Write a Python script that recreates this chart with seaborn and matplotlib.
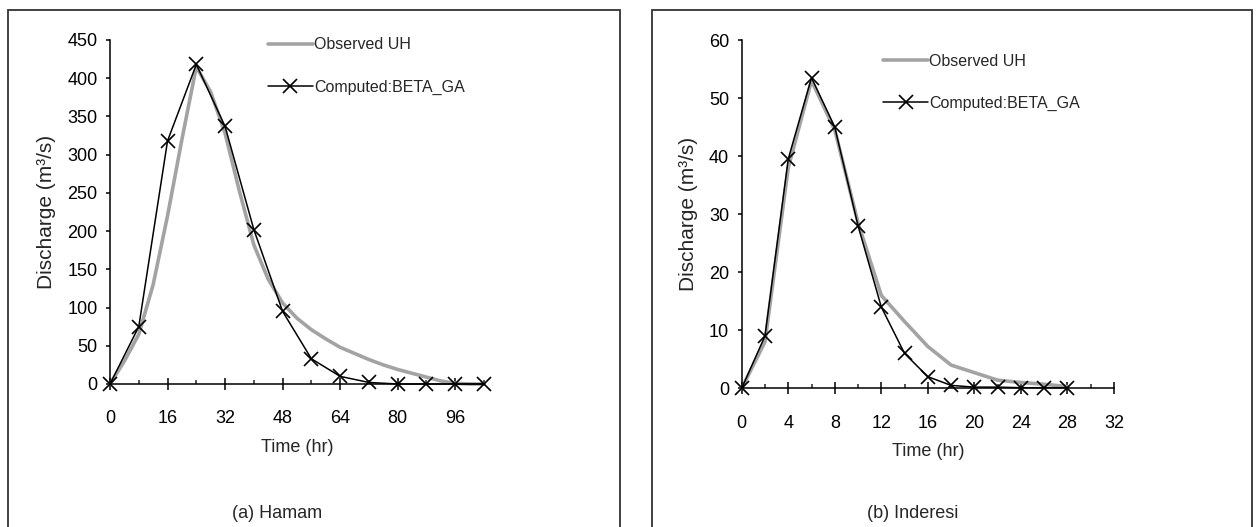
import numpy as np
import pandas as pd
import matplotlib
matplotlib.use("Agg")
import matplotlib.pyplot as plt
from matplotlib.patches import Rectangle
from matplotlib.lines import Line2D
from matplotlib.ticker import MultipleLocator
import seaborn as sns

# --- (a) Hamam ---
hamam_obs_t = [0, 4, 8, 12, 16, 20, 24, 28, 32, 36, 40, 44, 48, 52, 56, 60, 64, 68,
               72, 76, 80, 84, 88, 92, 96, 100, 104]
hamam_obs_q = [0, 30, 65, 130, 220, 320, 415, 382, 328, 252, 182, 137, 106, 86, 71,
               59, 48, 40, 32, 25, 19, 14, 9, 4, 1, 0, 0]
hamam_cmp_t = [0, 8, 16, 24, 32, 40, 48, 56, 64, 72, 80, 88, 96, 104]
hamam_cmp_q = [0, 75, 318, 418, 337, 202, 95, 33, 10, 2, 0, 0, 0, 0]

# --- (b) Inderesi ---
ind_obs_t = [0, 2, 4, 6, 8, 10, 12, 14, 16, 18, 20, 22, 24, 26, 28]
ind_obs_q = [0, 8, 38, 53, 44.5, 28.5, 16, 11.5, 7.2, 4.0, 2.7, 1.4, 1.0, 0.7, 0.3]
ind_cmp_t = [0, 2, 4, 6, 8, 10, 12, 14, 16, 18, 20, 22, 24, 26, 28]
ind_cmp_q = [0, 9, 39.5, 53.5, 45, 28, 14, 6, 2, 0.5, 0.2, 0.2, 0.1, 0.1, 0.1]

sns.set_style("ticks")
plt.rcParams['font.family'] = ['Liberation Sans', 'DejaVu Sans']

fig = plt.figure(figsize=(12.57, 5.27), dpi=100)
W, H = 1257, 527

# panel frames
for x0, x1 in [(8, 620), (652, 1252)]:
    fig.patches.append(Rectangle((x0 / W, -0.1), (x1 - x0) / W, 1.1 - 10 / H,
                                 transform=fig.transFigure, fill=False,
                                 edgecolor='#333333', lw=1.3))

ax1 = fig.add_axes([110 / W, 1 - 384 / H, 374 / W, 344 / H])
ax2 = fig.add_axes([741.7 / W, 1 - 388.3 / H, 372.3 / W, 348.3 / H])

gray = '#a3a3a3'
panels = [
    (ax1, hamam_obs_t, hamam_obs_q, hamam_cmp_t, hamam_cmp_q, 104, 450, 50, 16, 8,
     '(a) Hamam', (0.4225, 1.008), 277),
    (ax2, ind_obs_t, ind_obs_q, ind_cmp_t, ind_cmp_q, 32, 60, 10, 4, 2,
     '(b) Inderesi', (0.38, 0.96), 913),
]

for ax, ot, oq, ct, cq, xmax, ymax, ystep, xmaj, xmin_, title, lpos, tx in panels:
    sns.lineplot(x=ot, y=oq, ax=ax, color=gray, lw=2.6, label='Observed UH')
    sns.lineplot(x=ct, y=cq, ax=ax, color='black', lw=1.1, marker='x',
                 markersize=10, markeredgewidth=1.2, markeredgecolor='black',
                 label='Computed:BETA_GA')
    ax.set_xlim(0, xmax)
    ax.set_ylim(0, ymax)
    ax.xaxis.set_major_locator(MultipleLocator(xmaj))
    ax.xaxis.set_minor_locator(MultipleLocator(xmin_))
    ax.yaxis.set_major_locator(MultipleLocator(ystep))
    ax.tick_params(axis='x', which='major', direction='inout', length=8, width=1.1,
                   labelsize=13, pad=15, colors='black')
    ax.tick_params(axis='x', which='minor', direction='in', length=3, width=1.1)
    ax.tick_params(axis='y', which='major', direction='out', length=3, width=1.1,
                   labelsize=13, pad=6, colors='black')
    ax.set_xlabel('Time (hr)', fontsize=13, labelpad=8)
    ax.set_ylabel('Discharge (m³/s)', fontsize=15, labelpad=8)
    for s in ['top', 'right']:
        ax.spines[s].set_visible(False)
    for s in ['left', 'bottom']:
        ax.spines[s].set_linewidth(1.1)
        ax.spines[s].set_color('black')
    for l in ax.get_lines():
        l.set_clip_on(False)
    handles = [Line2D([], [], color=gray, lw=2.6),
               Line2D([], [], color='black', lw=1.1, marker='x', markersize=10,
                      markeredgewidth=1.2)]
    ax.legend(handles, ['Observed UH', 'Computed:BETA_GA'], loc='upper left',
              bbox_to_anchor=lpos, frameon=False, fontsize=11.5, handlelength=2.8,
              handletextpad=0.1, labelspacing=1.7, borderpad=0, borderaxespad=0)
    fig.text(tx / W, 1 - 514 / H, title, ha='center', va='center', fontsize=13)

fig.savefig('out.png', dpi=100)
